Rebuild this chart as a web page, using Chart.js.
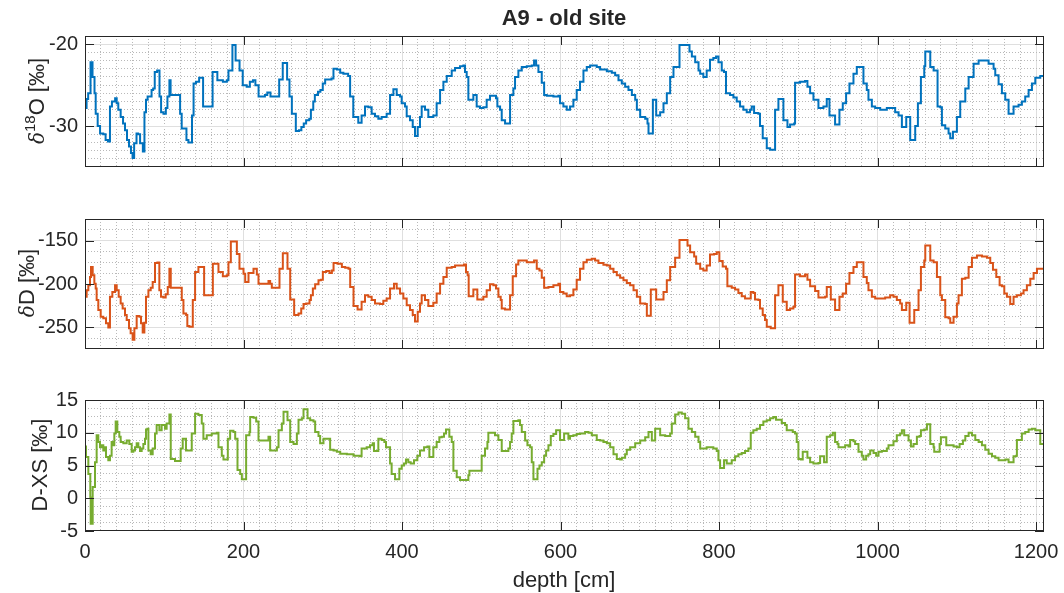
<!DOCTYPE html>
<html>
<head>
<meta charset="utf-8">
<script src="https://cdn.jsdelivr.net/npm/chart.js@4.4.0/dist/chart.umd.min.js"></script>
<style>
  body { margin: 0; background: #fff; width: 1064px; height: 593px; overflow: hidden; position: relative;
         font-family: "Liberation Sans", Arial, sans-serif; color: #262626; }
  canvas { position: absolute; left: 0; }
  .lab { position: absolute; white-space: nowrap; font-size: 22px; line-height: 1; transform: translate(-50%, -50%); }
  .ylab { transform: translate(-50%, -50%) rotate(-90deg); }
  .ylab i { font-family: "DejaVu Serif", serif; font-size: 20px; }
  .ylab sup { font-size: 15px; vertical-align: 9px; line-height: 0; }
</style>
</head>
<body>
<canvas id="c-o" width="1064" height="200" style="top:0"></canvas>
<canvas id="c-d" width="1064" height="180" style="top:200px"></canvas>
<canvas id="c-x" width="1064" height="213" style="top:380px"></canvas>

<div class="lab" style="left:564px;top:18px;font-weight:bold">A9 - old site</div>
<div class="lab ylab" style="left:37px;top:101px"><i>δ</i><sup>18</sup>O [‰]</div>
<div class="lab ylab" style="left:27px;top:283px"><i>δ</i>D [‰]</div>
<div class="lab ylab" style="left:40px;top:465px">D-XS [‰]</div>
<div class="lab" style="left:564px;top:580px">depth [cm]</div>

<script>
// Depth axis (cm) and labelled ticks
const xTicks = [0, 200, 400, 600, 800, 1000, 1200];
const yTicksO = [-30, -20];
const yTicksD = [-250, -200, -150];
const yTicksX = [-5, 0, 5, 10, 15];

// Step series: [depth cm, value ‰], value holds until next depth
const d18O = [
  [0,-27.8],[2,-26.7],[4,-26.0],[7,-22.2],[9.5,-24.0],[12,-26.0],[13.5,-28.5],[16,-30.0],[19,-30.9],[23,-31.0],
  [26,-31.7],[29,-31.9],[31.5,-27.6],[34,-27.0],[38,-26.6],[40,-27.2],[42,-28.0],[45,-28.9],[48,-29.7],[50.5,-30.5],
  [53,-31.7],[55.5,-32.5],[58,-33.3],[60,-33.9],[62,-32.1],[65,-30.9],[67,-31.0],[69.5,-32.1],[73,-33.1],[75,-28.3],
  [77,-26.8],[79,-26.4],[84,-25.6],[86,-25.4],[88,-23.4],[91,-23.2],[94,-26.4],[96,-28.3],[99,-28.5],[102,-27.8],
  [104,-26.4],[106.5,-24.4],[108,-26.2],[120,-28.5],[122,-30.3],[128,-31.7],[130.5,-32.0],[135,-28.7],[137,-24.8],[140,-24.6],
  [144,-24.1],[149,-27.6],[161,-23.4],[167,-24.4],[174,-24.6],[179,-24.4],[181,-23.2],[186,-20.1],[190,-22.0],[195,-23.2],
  [199,-25.0],[204,-25.2],[208,-24.6],[212,-24.4],[215,-25.0],[219,-26.4],[227,-26.2],[230,-25.9],[234,-26.4],[245,-24.3],
  [249.5,-22.3],[255,-24.3],[258,-26.4],[261,-28.5],[266,-30.6],[270,-30.5],[273,-30.1],[276,-29.7],[279,-29.3],[283,-29.1],
  [285,-28.0],[288,-27.0],[290,-26.2],[294,-25.8],[297,-25.6],[300,-24.8],[303,-24.3],[311,-24.2],[313.5,-23.0],[318,-23.1],
  [322,-23.5],[326,-23.6],[332,-23.9],[334.5,-26.4],[338.5,-28.9],[344.8,-29.6],[349,-28.7],[353.3,-27.6],[357.5,-27.7],[361.7,-28.5],
  [365.9,-28.8],[370.1,-29.1],[374.3,-28.9],[380.6,-28.5],[384.9,-26.2],[389.1,-25.5],[393.3,-26.2],[397.5,-26.4],[399.6,-27.2],[403.8,-27.6],
  [405.9,-28.8],[410.1,-29.3],[413.5,-30.1],[416.4,-31.2],[419.8,-30.1],[422.7,-28.9],[424.8,-27.6],[429,-28.0],[433.2,-28.9],[439.5,-28.7],
  [443.7,-27.2],[448,-25.6],[452.2,-24.6],[456.4,-23.9],[462.7,-23.2],[466.9,-22.9],[473.2,-22.7],[477.4,-22.6],[479.5,-23.4],[481.6,-24.0],
  [483.7,-26.8],[490,-26.2],[494.2,-27.6],[498.4,-27.8],[502.6,-27.7],[506.8,-26.8],[511,-26.3],[518.6,-26.6],[520.3,-27.6],[523.7,-28.0],
  [525.8,-29.3],[530,-29.7],[536.3,-26.2],[540.5,-25.4],[542.6,-24.0],[546.8,-23.2],[551.1,-22.8],[557.4,-22.7],[563.7,-22.6],[566.6,-22.0],
  [569.2,-22.6],[572.1,-23.4],[576.3,-24.7],[579.3,-26.2],[582.6,-26.3],[591,-26.4],[597.3,-26.3],[599.4,-27.2],[603.6,-27.6],[607.8,-28.0],
  [612,-27.6],[616.2,-26.8],[620.4,-25.6],[624.6,-24.6],[628.9,-23.2],[633.1,-22.8],[637.3,-22.6],[645.7,-22.8],[649.9,-23.1],[658.4,-23.3],
  [664.7,-23.5],[668.9,-23.8],[673.1,-24.4],[677.3,-24.8],[681.5,-25.2],[685.7,-25.6],[690,-26.2],[694.2,-26.8],[696.3,-28.0],[700.5,-28.9],
  [706.8,-29.1],[709.7,-29.7],[711,-30.9],[716.5,-26.8],[720.7,-28.7],[725.7,-28.3],[729.9,-27.2],[734.1,-26.0],[738.3,-24.0],[742.5,-22.8],
  [750.1,-20.1],[762.7,-20.9],[765.7,-21.5],[769.9,-22.2],[774.1,-23.2],[776.2,-23.6],[780.2,-24.0],[784.4,-23.2],[788.6,-21.9],[792.8,-21.7],
  [796.2,-21.5],[799.2,-22.2],[803.4,-23.2],[806.3,-23.4],[808.8,-26.0],[813.9,-26.2],[818.1,-26.5],[822.3,-27.0],[826.5,-27.6],[830.7,-28.0],
  [834.9,-28.3],[839.1,-28.0],[841.2,-27.6],[844.2,-28.4],[849.6,-28.5],[851.7,-30.0],[855.1,-31.5],[860.2,-32.7],[864.4,-32.9],[870.7,-28.0],
  [874.9,-26.7],[881.2,-29.3],[886.3,-30.1],[889.6,-29.8],[894.7,-29.7],[895.9,-24.7],[902.2,-24.6],[908.5,-24.5],[911.5,-25.2],[914.9,-26.0],
  [919.1,-26.8],[925.4,-27.8],[931.7,-27.6],[935.9,-26.7],[939.3,-28.7],[946.4,-29.8],[951.9,-28.0],[956.1,-27.2],[960.3,-26.0],[964.5,-24.8],
  [969.6,-23.6],[973.8,-22.8],[982.2,-24.8],[986.4,-25.6],[988.5,-26.8],[992.8,-27.6],[997,-27.8],[1003.3,-28.0],[1011.7,-27.8],[1022.2,-28.3],
  [1026.5,-28.7],[1030.7,-30.1],[1036.2,-28.9],[1041.2,-31.7],[1047.5,-30.0],[1050.9,-27.2],[1054.7,-24.0],[1058.9,-22.7],[1060.2,-20.9],[1066.5,-22.8],
  [1070.7,-23.2],[1075.7,-27.6],[1079.1,-27.7],[1081.2,-29.9],[1085.4,-30.3],[1089.6,-30.9],[1091.7,-31.5],[1095.1,-30.7],[1100.1,-28.9],[1104.3,-27.0],
  [1110.7,-25.4],[1114.9,-24.0],[1121.2,-22.4],[1127.5,-22.0],[1140.1,-22.4],[1146.4,-23.0],[1148.5,-23.8],[1152.7,-24.9],[1156.9,-26.0],[1161.1,-26.8],
  [1165.3,-28.5],[1171.6,-27.6],[1177.9,-27.4],[1182.1,-27.0],[1186.3,-26.4],[1190.6,-25.6],[1194.8,-24.8],[1199,-24.1],[1205.3,-23.9],[1210,-23.9]
];

const dD = [
  [0,-214.8],[2.1,-207.2],[4.2,-201.5],[6.3,-192.0],[7.6,-180.5],[9.7,-190.0],[11.8,-199.6],[13.5,-205.3],[14.7,-218.6],[16.8,-230.1],
  [19.8,-237.7],[23.1,-239.6],[26.5,-245.3],[29.4,-250.3],[31.5,-214.8],[34.5,-209.1],[37.9,-201.5],[40,-207.2],[42.5,-214.8],[45,-222.5],
  [47.5,-228.2],[50.5,-235.8],[52.6,-241.5],[55.5,-251.1],[57.6,-256.8],[60.1,-264.4],[62.3,-251.1],[65.2,-237.0],[68.6,-237.7],[70.7,-245.3],
  [72.8,-256.0],[74.9,-244.6],[77,-214.8],[80,-207.2],[82.9,-204.2],[85.4,-197.7],[88.3,-175.9],[91.3,-175.2],[93.8,-207.2],[95.9,-214.8],
  [98.9,-215.6],[101.8,-211.8],[104.4,-203.4],[106.5,-182.4],[108.2,-204.2],[122.1,-218.6],[124.2,-233.9],[127.6,-235.8],[129.1,-248.4],[131.7,-249.2],
  [136,-218.6],[138.9,-186.2],[143.1,-180.5],[150.3,-212.9],[161.3,-176.7],[168.4,-186.2],[173.9,-191.2],[178.9,-190.0],[181,-174.8],[184,-151.1],
  [191.6,-165.3],[194.9,-182.4],[200,-188.1],[202.1,-197.7],[206.3,-187.4],[212.6,-182.4],[216.8,-188.9],[218.9,-199.6],[231.5,-196.5],[233.6,-199.6],
  [235.7,-204.2],[245.4,-182.4],[249.6,-164.5],[255.5,-182.4],[258.9,-217.9],[263.9,-235.8],[269.4,-233.9],[272.8,-228.2],[275.7,-223.2],[279.1,-222.5],
  [283.3,-218.6],[285,-212.9],[287.5,-205.3],[290.4,-200.3],[294.6,-195.8],[297.6,-195.0],[300.1,-186.2],[304.3,-185.1],[308.5,-187.4],[311.5,-184.3],
  [313.6,-175.9],[318.6,-176.7],[324.1,-180.5],[328.3,-181.3],[332.5,-182.4],[334.6,-203.4],[338.8,-225.5],[343.9,-229.3],[349,-220.6],[353.3,-212.9],
  [357.5,-214.8],[361.7,-218.6],[365.9,-222.5],[372.2,-223.2],[376.4,-219.4],[380.6,-216.7],[384.9,-205.3],[389.9,-199.6],[393.3,-205.3],[397.5,-211.0],
  [401.7,-216.7],[405.9,-224.4],[410.1,-230.1],[413.5,-235.8],[416.4,-243.4],[419.8,-232.0],[422.7,-222.5],[424.8,-212.9],[429,-218.6],[433.2,-225.5],
  [439.5,-221.7],[443.7,-211.0],[448,-199.6],[452.2,-192.0],[456.4,-181.3],[462.7,-180.5],[466.9,-178.6],[478.2,-177.5],[480.7,-186.2],[482.8,-190.0],
  [484.1,-214.1],[490,-206.4],[495,-217.9],[502.6,-214.8],[506.8,-207.2],[511,-200.3],[515.3,-201.5],[518.6,-205.3],[521.6,-214.8],[524.5,-218.6],
  [525.8,-228.2],[530,-229.3],[536.3,-212.9],[539.7,-191.2],[543.9,-177.5],[546.8,-172.9],[557.4,-174.8],[566.6,-172.9],[570,-182.4],[573.4,-184.3],
  [576.3,-192.7],[579.3,-204.2],[584.7,-203.4],[591,-201.5],[597.3,-199.6],[599.4,-209.1],[603.6,-211.0],[607.8,-214.1],[612,-212.9],[616.2,-206.4],
  [620.4,-195.0],[624.6,-182.4],[628.9,-174.8],[633.1,-172.1],[639.4,-171.0],[643.6,-172.9],[647.8,-175.9],[654.1,-177.8],[658.4,-178.6],[662.6,-182.4],
  [666.8,-186.2],[671,-190.0],[675.2,-192.7],[679.4,-195.8],[683.6,-198.8],[687.8,-201.5],[692.1,-207.2],[696.3,-214.8],[700.5,-222.5],[706.8,-223.2],
  [708.9,-236.5],[713.9,-206.4],[720.7,-217.9],[729.9,-209.1],[734.1,-195.8],[738.3,-180.5],[744.6,-169.8],[750.1,-149.2],[760.2,-155.7],[763.5,-163.3],
  [768.6,-168.3],[771.1,-176.7],[776.2,-182.4],[780.2,-184.3],[784.4,-178.6],[788.6,-166.0],[793.7,-165.3],[797.1,-163.3],[800.4,-173.6],[804.6,-179.7],
  [808.8,-182.4],[810.5,-202.6],[816,-204.2],[820.2,-206.4],[824.4,-210.3],[828.6,-214.1],[832.8,-216.7],[840,-209.1],[843.3,-210.3],[845.4,-217.9],
  [849.6,-218.6],[851.7,-228.2],[855.1,-235.8],[858,-241.5],[860.2,-249.2],[865.2,-251.1],[870.7,-212.9],[874.9,-201.5],[880.4,-220.6],[885.4,-230.1],
  [889.6,-228.2],[893.8,-226.3],[895.9,-188.9],[902.2,-191.2],[908.5,-188.9],[911.5,-195.0],[914.9,-202.6],[921.2,-208.0],[925.4,-215.6],[933.8,-214.8],
  [935.9,-203.4],[941,-217.9],[946.4,-230.1],[951.9,-214.8],[956.1,-211.0],[960.3,-199.6],[964.5,-187.4],[969.6,-180.5],[973.8,-174.8],[982.2,-192.0],
  [986.4,-198.8],[988.5,-207.2],[992.8,-214.8],[997,-216.7],[1009.6,-215.6],[1015.9,-212.9],[1020.1,-214.8],[1024.3,-218.6],[1028.5,-222.5],[1030.7,-230.1],
  [1036.2,-221.7],[1040.4,-244.6],[1046.3,-230.1],[1051.7,-207.2],[1054.7,-180.5],[1058.9,-172.9],[1060.2,-155.7],[1066.5,-172.9],[1070.7,-174.8],[1074.9,-192.0],
  [1079.1,-212.9],[1081.2,-218.6],[1085.4,-238.5],[1089.6,-239.6],[1091.7,-244.6],[1095.9,-237.7],[1100.1,-222.5],[1102.2,-212.9],[1106.4,-193.9],[1110.7,-192.7],
  [1114.9,-180.5],[1119.1,-169.8],[1125.4,-167.2],[1131.7,-168.3],[1138,-169.8],[1142.2,-175.9],[1145.6,-183.6],[1149.8,-192.0],[1154,-201.5],[1156.9,-202.6],
  [1159.9,-211.0],[1163.2,-214.8],[1167.4,-223.2],[1171.6,-214.8],[1175.8,-212.9],[1180.9,-211.0],[1184.2,-207.2],[1188.4,-201.5],[1192.7,-193.9],[1196.9,-187.4],
  [1201.1,-182.4],[1210,-183.6]
];

const dxs = [
  [0,7.9],[1.3,6.3],[4.2,3.7],[6.7,0.1],[7.2,-3.9],[9.7,1.7],[12.6,5.5],[14.7,9.6],[16.8,8.6],[18.9,7.8],
  [21,8.1],[23.1,7.3],[25.2,7.8],[26.5,6.3],[29.4,5.8],[31.5,6.5],[33.6,8.6],[35.7,8.1],[37,9.9],[38.7,11.7],
  [40.8,10.1],[43.3,9.4],[45,8.6],[48.4,8.4],[52.6,8.8],[55.9,8.3],[58.9,7.1],[61,7.3],[63.1,7.8],[65.2,8.4],
  [67.3,7.8],[69.4,7.2],[71.5,7.6],[73.6,8.3],[75.7,9.1],[77,10.5],[78.7,10.6],[80,7.3],[82.9,6.7],[85.4,7.6],
  [88.3,9.9],[90.4,11.2],[93.8,10.4],[96.7,11.2],[100.9,10.6],[103,11.4],[106.5,12.8],[108.2,6.0],[113.6,5.7],[120.7,7.6],
  [123.3,9.1],[127.4,7.3],[134.7,9.9],[138.9,12.9],[143.1,12.7],[147.3,11.4],[149.4,9.1],[153.6,9.6],[159.9,9.9],[166.3,10.0],
  [168.4,7.8],[172.6,6.5],[174.7,5.9],[180.2,9.1],[183.1,10.3],[187.3,10.1],[189.5,9.1],[192.4,4.3],[195.8,3.7],[197.9,2.9],
  [203.3,9.6],[207.5,10.1],[208.4,12.4],[212.6,12.3],[216,11.7],[218.9,8.8],[231.5,9.4],[233.6,7.3],[242.1,7.8],[244.2,10.4],
  [248.4,11.4],[250.5,13.2],[255.5,11.9],[258.9,8.6],[263.1,8.3],[267.3,9.9],[269.4,12.0],[273.6,12.2],[275.7,13.6],[280.8,12.2],
  [284.1,11.9],[288.3,11.7],[290.4,10.1],[294.6,9.5],[296.7,8.4],[300.9,9.1],[309.3,7.4],[313.6,7.3],[317.8,7.1],[322,6.8],
  [330.4,6.7],[338.8,6.5],[346.9,6.4],[349,7.6],[355.4,7.8],[359.6,8.1],[363,8.4],[364.6,7.2],[370.1,9.1],[374.3,8.9],
  [377.7,8.6],[379.8,7.8],[384.9,5.3],[386.9,3.7],[391.2,2.9],[396.6,4.5],[399.6,5.0],[402.5,5.3],[405,5.9],[407.9,5.5],
  [410.9,5.3],[415.1,5.8],[419.3,6.5],[422.7,7.3],[427.8,7.8],[432,7.9],[434.5,6.3],[439.5,7.8],[443.7,8.6],[447.1,9.3],
  [450.1,9.4],[453,9.9],[455.5,10.5],[459.7,9.4],[462.7,8.6],[464.8,4.2],[469,3.2],[473.2,2.8],[483.7,3.5],[485,4.2],
  [498.4,4.2],[500.5,6.5],[504.7,7.6],[507.7,8.6],[508.9,10.0],[517.3,9.6],[521.6,8.9],[525.8,7.2],[534.2,7.6],[536.3,8.6],
  [538.4,9.9],[540.5,11.8],[546.8,11.9],[548.9,11.2],[551.1,10.1],[555.3,8.8],[558.2,8.1],[561.6,7.8],[563.7,5.5],[565.8,2.9],
  [570.9,4.5],[573.4,5.0],[576.3,5.5],[579.3,6.5],[581.8,7.3],[584.7,8.1],[587.7,9.5],[591,9.8],[594.4,10.4],[599.4,8.9],
  [604.5,9.9],[609.9,9.1],[612,9.5],[616.2,9.6],[620.4,9.8],[624.6,9.9],[631,10.1],[635.2,10.0],[639.4,9.6],[645.7,8.9],
  [649.9,8.8],[654.1,8.6],[658.4,8.4],[662.6,7.8],[666.8,6.7],[671,6.0],[675.2,5.9],[677.3,6.2],[681.5,6.7],[683.6,7.4],
  [687.8,7.8],[694.2,8.4],[700.5,8.8],[706.8,9.3],[711,10.1],[715.2,8.8],[719.4,10.6],[725.7,9.6],[732,9.5],[738.3,9.9],
  [740.4,11.4],[744.6,12.8],[748.8,13.1],[753,12.9],[757.2,12.2],[761.4,10.6],[765.7,10.1],[769.9,9.4],[774.1,8.6],[776.2,7.6],
  [784.4,7.8],[792.8,7.6],[797.1,7.2],[799.2,5.8],[801.3,4.6],[806.3,5.8],[809.7,5.3],[816,5.8],[820.2,6.4],[824.4,6.7],
  [828.6,6.9],[832.8,7.2],[837,7.6],[840,10.0],[843.3,10.4],[847.5,10.6],[851.7,11.2],[855.9,11.7],[860.2,11.9],[864.4,12.2],
  [868.6,12.4],[871.9,12.0],[879.1,11.5],[883.3,11.2],[885.4,10.4],[893,10.1],[895.9,9.9],[898,8.6],[900.1,6.0],[903.1,5.9],
  [905.6,7.1],[911.5,6.2],[914.9,5.5],[919.1,5.3],[925.4,5.4],[927.5,6.4],[932.5,5.5],[935.9,9.4],[940.1,9.6],[943.5,10.0],
  [946.4,8.6],[949.4,8.3],[950.7,7.8],[959.1,8.1],[963.3,7.9],[965.4,8.9],[969.6,8.7],[971.7,8.3],[975.9,7.1],[980.1,6.5],
  [982.2,5.9],[985.6,6.5],[988.5,6.7],[990.7,7.3],[994.9,6.9],[998.2,6.5],[1001.2,7.1],[1005.4,7.2],[1011.7,7.6],[1013.8,8.1],
  [1020.1,8.7],[1024.3,9.6],[1028.5,9.9],[1030.7,10.4],[1033.6,9.6],[1039.1,8.8],[1042.1,7.9],[1045.4,8.3],[1049.6,9.4],[1053,9.5],
  [1054.7,10.4],[1058.9,10.5],[1062.3,11.3],[1066.5,8.3],[1070.7,7.8],[1071.5,7.1],[1078.3,8.3],[1079.9,9.3],[1086.7,8.1],[1095.9,7.9],
  [1100.1,7.8],[1103.5,8.3],[1107.7,8.8],[1110.7,9.5],[1114.9,10.0],[1119.1,9.6],[1123.3,8.9],[1127.5,8.6],[1131.7,8.1],[1135.9,7.4],
  [1140.1,6.8],[1144.4,6.4],[1148.5,6.2],[1152.7,5.8],[1161.1,5.9],[1165.3,5.5],[1171.6,6.4],[1175,6.5],[1175.8,8.9],[1182.1,9.9],
  [1186.3,10.1],[1190.6,10.5],[1194.8,10.6],[1199,10.4],[1205.3,8.3],[1210,8.1]
];

const X_MAX = 1210;
const X_MINOR = 20;
const TEXT = '#262626';
const MAJOR_GRID = '#dfdfdf';
const MINOR_GRID = '#b9b9b9';

Chart.defaults.font.family = '"Liberation Sans", Arial, sans-serif';
Chart.defaults.font.size = 20;
Chart.defaults.color = TEXT;

const near = (list, v) => list.some((t) => Math.abs(t - v) < 1e-6);

// axes box with inward major ticks on all four sides, MATLAB style
const frame = {
  id: 'frame',
  afterDraw(chart, args, opts) {
    const { ctx, chartArea: a, scales: { x, y } } = chart;
    const len = 9;
    ctx.save();
    ctx.strokeStyle = TEXT;
    ctx.lineWidth = 1;
    ctx.beginPath();
    xTicks.forEach((v) => {
      const px = Math.round(x.getPixelForValue(v)) + 0.5;
      ctx.moveTo(px, a.bottom); ctx.lineTo(px, a.bottom - len);
      ctx.moveTo(px, a.top); ctx.lineTo(px, a.top + len);
    });
    opts.yTicks.forEach((v) => {
      const py = Math.round(y.getPixelForValue(v)) + 0.5;
      ctx.moveTo(a.left, py); ctx.lineTo(a.left + len, py);
      ctx.moveTo(a.right, py); ctx.lineTo(a.right - len, py);
    });
    ctx.stroke();
    ctx.strokeRect(Math.round(a.left) + 0.5, Math.round(a.top) + 0.5,
      Math.round(a.right - a.left) - 1, Math.round(a.bottom - a.top) - 1);
    ctx.restore();
  }
};

function gridStyle(majors, edge) {
  return {
    grid: {
      drawTicks: false,
      color: (c) => {
        const v = c.tick.value;
        if (Math.abs(v - edge[0]) < 1e-6 || Math.abs(v - edge[1]) < 1e-6) return 'rgba(0,0,0,0)';
        return near(majors, v) ? MAJOR_GRID : MINOR_GRID;
      }
    },
    border: {
      display: false,
      dash: (c) => (c.tick && !near(majors, c.tick.value) ? [1, 2] : [])
    }
  };
}

// minor depth ticks every 20 cm, plus the axis end
function depthTicks(scale) {
  const ticks = [];
  for (let v = 0; v <= X_MAX; v += X_MINOR) ticks.push({ value: v });
  ticks.push({ value: X_MAX });
  scale.ticks = ticks;
}

function panel(id, series, color, yMin, yMax, yStep, yTicks, padTop, padBottom, xHeight, showX) {
  const xg = gridStyle(xTicks, [0, X_MAX]);
  const yg = gridStyle(yTicks, [yMin, yMax]);
  return new Chart(document.getElementById(id), {
    type: 'line',
    data: {
      datasets: [{
        data: series.map(([d, v]) => ({ x: d, y: v })),
        borderColor: color,
        borderWidth: 2,
        stepped: 'before',
        pointRadius: 0,
        fill: false
      }]
    },
    options: {
      responsive: false,
      animation: false,
      devicePixelRatio: 1,
      layout: { padding: { left: 0, right: 20, top: padTop, bottom: padBottom } },
      plugins: { legend: { display: false }, tooltip: { enabled: false }, frame: { yTicks } },
      scales: {
        x: {
          type: 'linear', min: 0, max: X_MAX,
          ...xg,
          afterBuildTicks: depthTicks,
          ticks: {
            display: showX, autoSkip: false, maxRotation: 0, padding: 9,
            callback: (v) => (near(xTicks, v) ? String(v) : '')
          },
          afterFit: (s) => { s.height = xHeight; }
        },
        y: {
          min: yMin, max: yMax,
          ...yg,
          ticks: {
            stepSize: yStep, autoSkip: false, padding: 7,
            callback: (v) => (near(yTicks, v) ? String(Math.round(v)) : '')
          },
          afterFit: (s) => { s.width = 85; }
        }
      }
    },
    plugins: [frame]
  });
}

panel('c-o', d18O, '#0072BD', -35, -19, 1, yTicksO, 36, 33, 0, false);
panel('c-d', dD, '#D95319', -275, -125, 12.5, yTicksD, 18, 31, 0, false);
panel('c-x', dxs, '#77AC30', -5, 15, 1.25, yTicksX, 20, 0, 62, true);
</script>
</body>
</html>
